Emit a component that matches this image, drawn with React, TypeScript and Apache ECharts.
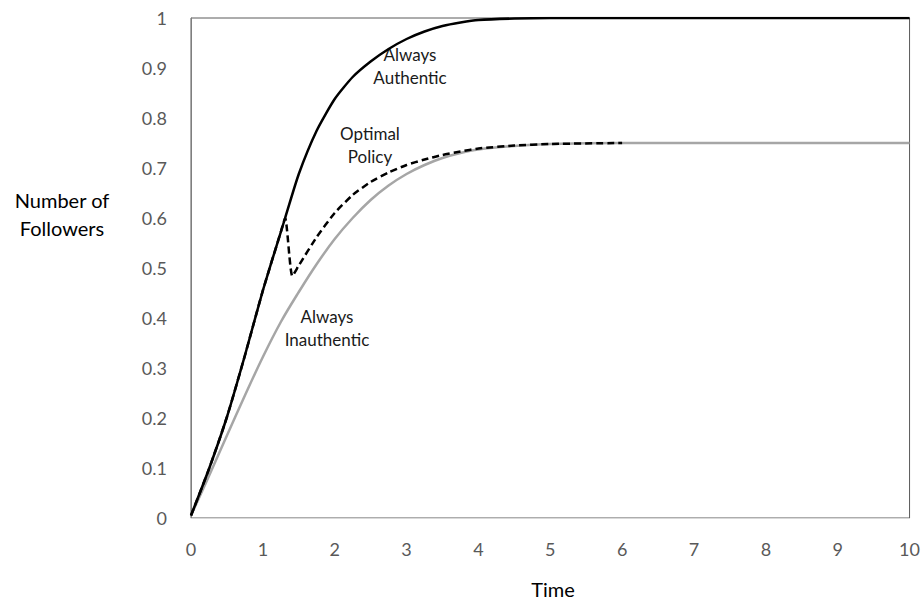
import React, { useEffect, useRef } from "react";
import * as echarts from "echarts";

// Time values and follower shares
const authenticX = [0, 0.25, 0.5, 0.75, 1, 1.25, 1.31, 1.5, 1.75, 2, 2.25, 2.5, 2.75, 3, 3.25, 3.5, 3.75, 4, 4.5, 5, 6, 7, 8, 9, 10];
const authenticY = [0.005, 0.098, 0.202, 0.325, 0.455, 0.572, 0.6, 0.688, 0.775, 0.838, 0.882, 0.913, 0.938, 0.958, 0.973, 0.984, 0.991, 0.996, 0.999, 1, 1, 1, 1, 1, 1];

const optimalX = [0, 0.25, 0.5, 0.75, 1, 1.25, 1.31, 1.41, 1.5, 1.75, 2, 2.25, 2.5, 2.75, 3, 3.25, 3.5, 3.75, 4, 4.5, 5, 6];
const optimalY = [0.005, 0.098, 0.202, 0.325, 0.455, 0.572, 0.6, 0.484, 0.505, 0.562, 0.61, 0.646, 0.672, 0.691, 0.706, 0.717, 0.726, 0.733, 0.739, 0.745, 0.748, 0.75];

const inauthenticX = [0, 0.25, 0.5, 0.75, 1, 1.25, 1.5, 1.75, 2, 2.25, 2.5, 2.75, 3, 3.25, 3.5, 3.75, 4, 4.5, 5, 6, 7, 8, 9, 10];
const inauthenticY = [0.005, 0.084, 0.165, 0.245, 0.322, 0.392, 0.452, 0.508, 0.558, 0.6, 0.636, 0.665, 0.688, 0.706, 0.72, 0.73, 0.737, 0.744, 0.748, 0.75, 0.75, 0.75, 0.75, 0.75];

const xTicks = [0, 10, 1];
const yTicks = [0, 1, 0.1];

const FONT = "Lato, 'Open Sans', sans-serif";

const zip = (xs: number[], ys: number[]) => xs.map((x, i) => [x, ys[i]]);

export default function App() {
  const ref = useRef<HTMLDivElement>(null);
  useEffect(() => {
    document.body.style.margin = "0";
    const chart = echarts.init(ref.current!, undefined, { renderer: "svg" });
    chart.setOption({
      animation: false,
      backgroundColor: "#ffffff",
      textStyle: { fontFamily: FONT },
      grid: {
        left: 191,
        right: 13,
        top: 18,
        bottom: 84,
        show: true,
        borderColor: "#5a5a5a",
        borderWidth: 1,
      },
      xAxis: {
        type: "value",
        min: xTicks[0],
        max: xTicks[1],
        interval: xTicks[2],
        axisLine: { show: true, lineStyle: { color: "#d9d9d9", width: 1 } },
        axisTick: { show: false },
        splitLine: { show: false },
        axisLabel: { color: "#595959", fontSize: 18, margin: 22, fontFamily: FONT },
      },
      yAxis: {
        type: "value",
        min: yTicks[0],
        max: yTicks[1],
        interval: yTicks[2],
        axisLine: { show: true, lineStyle: { color: "#7f7f7f", width: 1 } },
        axisTick: { show: false },
        splitLine: { show: false },
        axisLabel: { color: "#595959", fontSize: 18, margin: 24, fontFamily: FONT },
      },
      series: [
        {
          name: "Always Inauthentic",
          type: "line",
          data: zip(inauthenticX, inauthenticY),
          smooth: 0.35,
          showSymbol: false,
          lineStyle: { color: "#a6a6a6", width: 2.5 },
        },
        {
          name: "Optimal Policy",
          type: "line",
          data: zip(optimalX, optimalY),
          smooth: 0.2,
          showSymbol: false,
          lineStyle: { color: "#000000", width: 2.5, type: [7, 4] },
        },
        {
          name: "Always Authentic",
          type: "line",
          data: zip(authenticX, authenticY),
          smooth: 0.2,
          showSymbol: false,
          lineStyle: { color: "#000000", width: 2.5 },
        },
      ],
      graphic: [
        {
          type: "text",
          x: 62,
          y: 214,
          style: {
            text: "Number of\nFollowers",
            fill: "#000",
            font: `20px ${FONT}`,
            lineHeight: 28,
            align: "center",
            verticalAlign: "middle",
          },
        },
        {
          type: "text",
          x: 553,
          y: 589,
          style: { text: "Time", fill: "#000", font: `20px ${FONT}`, align: "center", verticalAlign: "middle" },
        },
        {
          type: "text",
          x: 410,
          y: 66,
          style: {
            text: "Always\nAuthentic",
            fill: "#1a1a1a",
            font: `17px ${FONT}`,
            lineHeight: 23,
            align: "center",
            verticalAlign: "middle",
          },
        },
        {
          type: "text",
          x: 370,
          y: 145,
          style: {
            text: "Optimal\nPolicy",
            fill: "#1a1a1a",
            font: `17px ${FONT}`,
            lineHeight: 23,
            align: "center",
            verticalAlign: "middle",
          },
        },
        {
          type: "text",
          x: 327,
          y: 328,
          style: {
            text: "Always\nInauthentic",
            fill: "#1a1a1a",
            font: `17px ${FONT}`,
            lineHeight: 23,
            align: "center",
            verticalAlign: "middle",
          },
        },
      ],
    });
    return () => chart.dispose();
  }, []);
  return (
    <div
      ref={ref}
      style={{ position: "absolute", left: 0, top: 0, width: 923, height: 602, background: "#fff" }}
    />
  );
}
